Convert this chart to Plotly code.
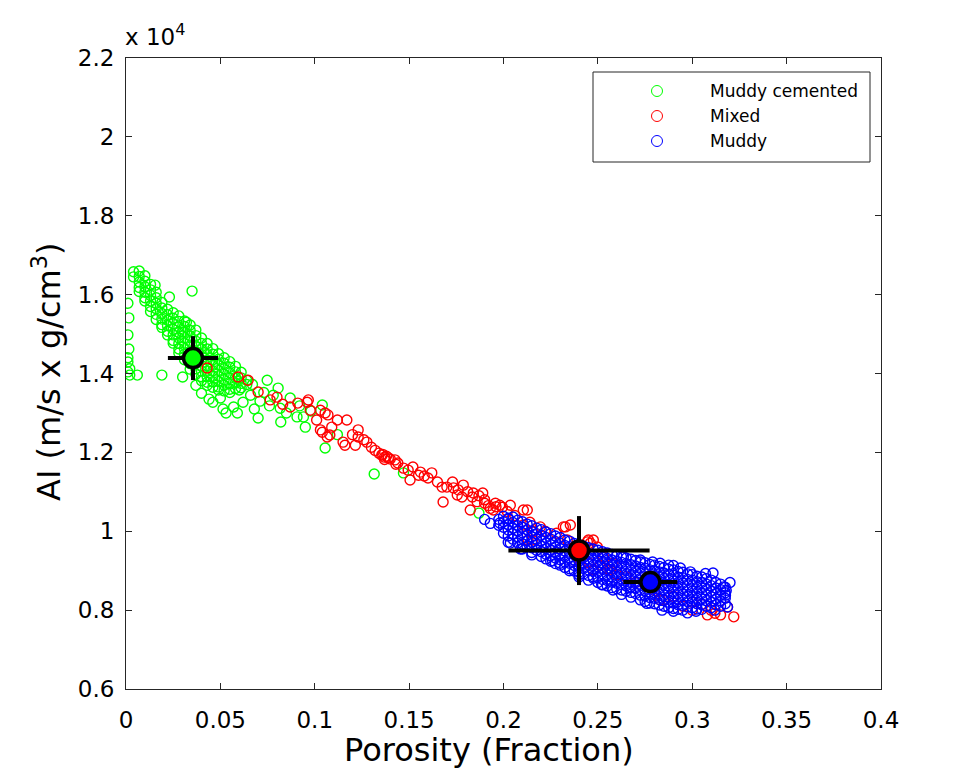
import plotly.graph_objects as go

# ---------------- data (AI in units of 10^4 m/s x g/cm3) ----------------
# Muddy cemented (green)
mc_phi = [
    0.001, 0.0015, 0.001, 0.0015, 0.001, 0.001, 0.002, 0.001, 0.002,
    0.004, 0.004,
    0.007, 0.007, 0.007, 0.007, 0.007,
    0.010, 0.010, 0.010, 0.010, 0.010, 0.010,
    0.013, 0.013, 0.013, 0.013, 0.013, 0.013,
    0.016, 0.016, 0.016, 0.016, 0.016, 0.016,
    0.019, 0.019, 0.019, 0.019, 0.019, 0.019,
    0.022, 0.022, 0.022, 0.022, 0.022, 0.022,
    0.025, 0.025, 0.025, 0.025, 0.025, 0.025, 0.025,
    0.028, 0.028, 0.028, 0.028, 0.028, 0.028, 0.028, 0.028,
    0.031, 0.031, 0.031, 0.031, 0.031, 0.031, 0.031, 0.031,
    0.034, 0.034, 0.034, 0.034, 0.034, 0.034, 0.034, 0.034, 0.034,
    0.037, 0.037, 0.037, 0.037, 0.037, 0.037, 0.037, 0.037, 0.037,
    0.040, 0.040, 0.040, 0.040, 0.040, 0.040, 0.040, 0.040, 0.040,
    0.043, 0.043, 0.043, 0.043, 0.043, 0.043, 0.043, 0.043, 0.043,
    0.046, 0.046, 0.046, 0.046, 0.046, 0.046, 0.046, 0.046,
    0.049, 0.049, 0.049, 0.049, 0.049, 0.049, 0.049, 0.049,
    0.052, 0.052, 0.052, 0.052, 0.052, 0.052, 0.052,
    0.055, 0.055, 0.055, 0.055, 0.055, 0.055, 0.055,
    0.058, 0.058, 0.058, 0.058, 0.058,
    0.061, 0.061, 0.061, 0.061,
    0.064, 0.064,
    0.0154, 0.023, 0.035, 0.032, 0.030, 0.006, 0.019, 0.030, 0.0748, 0.070,
    0.059, 0.0514, 0.046, 0.062, 0.0806, 0.0817, 0.082, 0.087, 0.0906, 0.095,
    0.104, 0.1055, 0.060, 0.1315, 0.147, 0.066, 0.071, 0.076, 0.078, 0.085,
    0.092, 0.098, 0.053, 0.057, 0.040, 0.044, 0.037, 0.067, 0.094, 0.187,
    0.112, 0.068, 0.073, 0.050,
]
mc_ai = [
    1.578, 1.541, 1.498, 1.462, 1.440, 1.429, 1.412, 1.404, 1.396,
    1.658, 1.645,
    1.660, 1.646, 1.632, 1.618, 1.608,
    1.648, 1.634, 1.620, 1.606, 1.592, 1.584,
    1.626, 1.612, 1.598, 1.584, 1.570, 1.557,
    1.606, 1.592, 1.578, 1.564, 1.550, 1.537,
    1.580, 1.566, 1.552, 1.538, 1.524, 1.517,
    1.563, 1.549, 1.535, 1.521, 1.507, 1.498,
    1.554, 1.540, 1.526, 1.512, 1.498, 1.484, 1.477,
    1.546, 1.532, 1.518, 1.504, 1.490, 1.476, 1.462, 1.452,
    1.533, 1.519, 1.505, 1.491, 1.477, 1.463, 1.449, 1.435,
    1.523, 1.509, 1.495, 1.481, 1.467, 1.453, 1.439, 1.425, 1.411,
    1.510, 1.496, 1.482, 1.468, 1.454, 1.440, 1.426, 1.412, 1.398,
    1.490, 1.476, 1.462, 1.448, 1.434, 1.420, 1.406, 1.392, 1.382,
    1.476, 1.462, 1.448, 1.434, 1.420, 1.406, 1.392, 1.378, 1.370,
    1.463, 1.449, 1.435, 1.421, 1.407, 1.393, 1.379, 1.365,
    1.450, 1.436, 1.422, 1.408, 1.394, 1.380, 1.366, 1.358,
    1.440, 1.426, 1.412, 1.398, 1.384, 1.370, 1.356,
    1.430, 1.416, 1.402, 1.388, 1.374, 1.360, 1.352,
    1.418, 1.404, 1.390, 1.376, 1.362,
    1.403, 1.389, 1.375, 1.364,
    1.383, 1.372,
    1.624, 1.594, 1.609, 1.530, 1.505, 1.396, 1.396, 1.391, 1.383, 1.287,
    1.300, 1.310, 1.327, 1.327, 1.363, 1.312, 1.277, 1.338, 1.290, 1.264,
    1.320, 1.211, 1.358, 1.145, 1.148, 1.345, 1.330, 1.318, 1.345, 1.300,
    1.318, 1.305, 1.300, 1.315, 1.350, 1.335, 1.370, 1.372, 1.290, 1.046,
    1.245, 1.310, 1.352, 1.338,
]

# Mixed (red)
mx_phi = [
    0.043, 0.0594, 0.0647, 0.070, 0.0764, 0.087, 0.096, 0.0976, 0.101, 0.107,
    0.109, 0.112, 0.103, 0.1066, 0.0966, 0.103, 0.1055, 0.117, 0.104, 0.108,
    0.115, 0.123, 0.123, 0.1215, 0.1276, 0.130, 0.1355, 0.137, 0.139, 0.1425,
    0.144, 0.147, 0.1495, 0.152, 0.1505, 0.155, 0.162, 0.170, 0.1735, 0.1787,
    0.184, 0.1755, 0.116, 0.168, 0.178, 0.1835, 0.1824, 0.189, 0.190, 0.1957,
    0.1946, 0.1994, 0.2036, 0.2126, 0.214, 0.2105, 0.2158, 0.213, 0.2195, 0.2328,
    0.2338, 0.2444, 0.136, 0.138, 0.134, 0.140, 0.137, 0.192, 0.196, 0.193,
    0.198, 0.190, 0.186, 0.1675, 0.173, 0.158, 0.165, 0.2105, 0.2153, 0.245,
    0.2497, 0.253, 0.258, 0.2476, 0.2407, 0.2317, 0.2354, 0.246, 0.2513, 0.2566,
    0.283, 0.2847, 0.308, 0.315, 0.322, 0.3187, 0.2476, 0.240, 0.245, 0.238,
    0.255, 0.260, 0.265, 0.270, 0.280, 0.290, 0.300, 0.305, 0.295, 0.310,
    0.300, 0.312, 0.080, 0.083, 0.091, 0.120, 0.126, 0.132, 0.143, 0.156,
    0.160, 0.176, 0.181, 0.187, 0.202, 0.206, 0.222, 0.228,
]
mx_ai = [
    1.414, 1.391, 1.383, 1.353, 1.333, 1.315, 1.327, 1.307, 1.282, 1.295,
    1.264, 1.282, 1.257, 1.239, 1.333, 1.307, 1.300, 1.282, 1.251, 1.244,
    1.226, 1.257, 1.239, 1.218, 1.226, 1.213, 1.193, 1.188, 1.186, 1.181,
    1.173, 1.160, 1.155, 1.163, 1.130, 1.142, 1.148, 1.112, 1.110, 1.117,
    1.097, 1.092, 1.218, 1.074, 1.087, 1.087, 1.054, 1.097, 1.071, 1.071,
    1.054, 1.061, 1.066, 1.054, 1.023, 1.016, 0.998, 0.978, 1.011, 1.011,
    0.978, 0.973, 1.195, 1.190, 1.198, 1.183, 1.182, 1.065, 1.062, 1.058,
    1.066, 1.080, 1.075, 1.112, 1.125, 1.140, 1.125, 1.054, 0.978, 0.978,
    0.960, 0.935, 0.919, 0.902, 0.919, 1.011, 1.016, 0.970, 0.914, 0.902,
    0.826, 0.826, 0.788, 0.788, 0.783, 0.808, 0.978, 0.930, 0.920, 0.940,
    0.905, 0.890, 0.885, 0.870, 0.850, 0.835, 0.820, 0.815, 0.810, 0.800,
    0.800, 0.792, 1.340, 1.322, 1.325, 1.245, 1.232, 1.205, 1.170, 1.150,
    1.135, 1.105, 1.100, 1.090, 1.050, 1.040, 1.000, 0.995,
]

# Muddy (blue)
md_phi = [
    0.1975, 0.1975,
    0.200, 0.200, 0.200, 0.200,
    0.2025, 0.2025, 0.2025, 0.2025, 0.2025,
    0.205, 0.205, 0.205, 0.205, 0.205,
    0.2075, 0.2075, 0.2075, 0.2075, 0.2075,
    0.210, 0.210, 0.210, 0.210, 0.210, 0.210,
    0.2125, 0.2125, 0.2125, 0.2125, 0.2125,
    0.215, 0.215, 0.215, 0.215, 0.215, 0.215,
    0.2175, 0.2175, 0.2175, 0.2175, 0.2175,
    0.220, 0.220, 0.220, 0.220, 0.220, 0.220,
    0.2225, 0.2225, 0.2225, 0.2225, 0.2225, 0.2225,
    0.225, 0.225, 0.225, 0.225, 0.225, 0.225,
    0.2275, 0.2275, 0.2275, 0.2275, 0.2275, 0.2275,
    0.230, 0.230, 0.230, 0.230, 0.230, 0.230,
    0.2325, 0.2325, 0.2325, 0.2325, 0.2325, 0.2325,
    0.235, 0.235, 0.235, 0.235, 0.235, 0.235,
    0.2375, 0.2375, 0.2375, 0.2375, 0.2375, 0.2375,
    0.240, 0.240, 0.240, 0.240, 0.240, 0.240, 0.240,
    0.2425, 0.2425, 0.2425, 0.2425, 0.2425, 0.2425,
    0.245, 0.245, 0.245, 0.245, 0.245, 0.245, 0.245,
    0.2475, 0.2475, 0.2475, 0.2475, 0.2475, 0.2475,
    0.250, 0.250, 0.250, 0.250, 0.250, 0.250, 0.250,
    0.2525, 0.2525, 0.2525, 0.2525, 0.2525, 0.2525, 0.2525,
    0.255, 0.255, 0.255, 0.255, 0.255, 0.255, 0.255,
    0.2575, 0.2575, 0.2575, 0.2575, 0.2575, 0.2575, 0.2575,
    0.260, 0.260, 0.260, 0.260, 0.260, 0.260, 0.260,
    0.2625, 0.2625, 0.2625, 0.2625, 0.2625, 0.2625, 0.2625, 0.2625,
    0.265, 0.265, 0.265, 0.265, 0.265, 0.265, 0.265,
    0.2675, 0.2675, 0.2675, 0.2675, 0.2675, 0.2675, 0.2675, 0.2675,
    0.270, 0.270, 0.270, 0.270, 0.270, 0.270, 0.270,
    0.2725, 0.2725, 0.2725, 0.2725, 0.2725, 0.2725, 0.2725, 0.2725,
    0.275, 0.275, 0.275, 0.275, 0.275, 0.275, 0.275, 0.275,
    0.2775, 0.2775, 0.2775, 0.2775, 0.2775, 0.2775, 0.2775, 0.2775,
    0.280, 0.280, 0.280, 0.280, 0.280, 0.280, 0.280, 0.280,
    0.2825, 0.2825, 0.2825, 0.2825, 0.2825, 0.2825, 0.2825, 0.2825,
    0.285, 0.285, 0.285, 0.285, 0.285, 0.285, 0.285, 0.285,
    0.2875, 0.2875, 0.2875, 0.2875, 0.2875, 0.2875, 0.2875, 0.2875,
    0.290, 0.290, 0.290, 0.290, 0.290, 0.290, 0.290, 0.290,
    0.2925, 0.2925, 0.2925, 0.2925, 0.2925, 0.2925, 0.2925, 0.2925,
    0.295, 0.295, 0.295, 0.295, 0.295, 0.295, 0.295, 0.295,
    0.2975, 0.2975, 0.2975, 0.2975, 0.2975, 0.2975, 0.2975,
    0.300, 0.300, 0.300, 0.300, 0.300, 0.300, 0.300,
    0.3025, 0.3025, 0.3025, 0.3025, 0.3025, 0.3025, 0.3025,
    0.305, 0.305, 0.305, 0.305, 0.305, 0.305, 0.305,
    0.3075, 0.3075, 0.3075, 0.3075, 0.3075, 0.3075,
    0.310, 0.310, 0.310, 0.310, 0.310, 0.310,
    0.3125, 0.3125, 0.3125, 0.3125, 0.3125,
    0.315, 0.315, 0.315, 0.315, 0.315,
    0.3175, 0.3175, 0.3175, 0.3175,
    0.2937, 0.299, 0.311, 0.3166, 0.3176, 0.3187, 0.2476, 0.267, 0.284, 0.2975,
    0.2635, 0.2725, 0.279, 0.283, 0.2875, 0.198, 0.2026, 0.230, 0.2036, 0.320,
    0.318, 0.307, 0.290, 0.240, 0.235, 0.226, 0.215, 0.209, 0.252, 0.258,
    0.276, 0.290, 0.302, 0.312, 0.190, 0.193,
]
md_ai = [
    1.030, 1.015,
    1.038, 1.024, 1.010, 0.995,
    1.031, 1.017, 1.003, 0.988, 0.972,
    1.036, 1.022, 1.008, 0.994, 0.980,
    1.028, 1.014, 1.000, 0.986, 0.970,
    1.024, 1.010, 0.996, 0.982, 0.968, 0.955,
    1.018, 1.004, 0.990, 0.976, 0.962,
    1.014, 1.000, 0.986, 0.972, 0.958, 0.946,
    1.008, 0.994, 0.980, 0.966, 0.952,
    1.004, 0.990, 0.976, 0.962, 0.948, 0.936,
    0.998, 0.984, 0.970, 0.956, 0.942, 0.930,
    0.994, 0.980, 0.966, 0.952, 0.938, 0.924,
    0.988, 0.974, 0.960, 0.946, 0.932, 0.918,
    0.984, 0.970, 0.956, 0.942, 0.928, 0.914,
    0.978, 0.964, 0.950, 0.936, 0.922, 0.908,
    0.975, 0.961, 0.947, 0.933, 0.919, 0.905,
    0.969, 0.955, 0.941, 0.927, 0.913, 0.899,
    0.966, 0.952, 0.938, 0.924, 0.910, 0.896, 0.884,
    0.962, 0.948, 0.934, 0.920, 0.906, 0.892,
    0.958, 0.944, 0.930, 0.916, 0.902, 0.888, 0.876,
    0.955, 0.941, 0.927, 0.913, 0.899, 0.885,
    0.952, 0.938, 0.924, 0.910, 0.896, 0.882, 0.870,
    0.948, 0.934, 0.920, 0.906, 0.892, 0.878, 0.864,
    0.945, 0.931, 0.917, 0.903, 0.889, 0.875, 0.861,
    0.941, 0.927, 0.913, 0.899, 0.885, 0.871, 0.857,
    0.938, 0.924, 0.910, 0.896, 0.882, 0.868, 0.854,
    0.935, 0.921, 0.907, 0.893, 0.879, 0.865, 0.851, 0.840,
    0.932, 0.918, 0.904, 0.890, 0.876, 0.862, 0.848,
    0.929, 0.915, 0.901, 0.887, 0.873, 0.859, 0.845, 0.833,
    0.926, 0.912, 0.898, 0.884, 0.870, 0.856, 0.842,
    0.922, 0.908, 0.894, 0.880, 0.866, 0.852, 0.838, 0.826,
    0.920, 0.906, 0.892, 0.878, 0.864, 0.850, 0.836, 0.822,
    0.916, 0.902, 0.888, 0.874, 0.860, 0.846, 0.832, 0.818,
    0.914, 0.900, 0.886, 0.872, 0.858, 0.844, 0.830, 0.816,
    0.911, 0.897, 0.883, 0.869, 0.855, 0.841, 0.827, 0.813,
    0.908, 0.894, 0.880, 0.866, 0.852, 0.838, 0.824, 0.810,
    0.904, 0.890, 0.876, 0.862, 0.848, 0.834, 0.820, 0.806,
    0.902, 0.888, 0.874, 0.860, 0.846, 0.832, 0.818, 0.804,
    0.898, 0.884, 0.870, 0.856, 0.842, 0.828, 0.814, 0.802,
    0.896, 0.882, 0.868, 0.854, 0.840, 0.826, 0.812, 0.800,
    0.892, 0.878, 0.864, 0.850, 0.836, 0.822, 0.808,
    0.890, 0.876, 0.862, 0.848, 0.834, 0.820, 0.806,
    0.886, 0.872, 0.858, 0.844, 0.830, 0.816, 0.803,
    0.884, 0.870, 0.856, 0.842, 0.828, 0.814, 0.802,
    0.880, 0.866, 0.852, 0.838, 0.824, 0.810,
    0.876, 0.862, 0.848, 0.834, 0.820, 0.806,
    0.870, 0.856, 0.842, 0.828, 0.814,
    0.866, 0.852, 0.838, 0.824, 0.810,
    0.858, 0.844, 0.830, 0.816,
    0.907, 0.897, 0.894, 0.859, 0.838, 0.808, 0.881, 0.856, 0.800, 0.793,
    0.935, 0.927, 0.922, 0.919, 0.914, 1.021, 1.033, 0.919, 0.970, 0.870,
    0.850, 0.893, 0.913, 0.890, 0.900, 0.925, 0.940, 0.955, 0.865, 0.851,
    0.817, 0.797, 0.797, 0.800, 1.030, 1.020,
]

# Class means with +/- one standard deviation
centroid_names = ["Muddy cemented", "Mixed", "Muddy"]
centroid_phi = [0.0355, 0.240, 0.2778]
centroid_ai = [1.439, 0.951, 0.871]
centroid_phi_sd = [0.0133, 0.0374, 0.0143]
centroid_ai_sd = [0.0557, 0.0875, 0.020]

series_names = ["Muddy cemented", "Mixed", "Muddy"]
series_colors = ["rgb(0,255,0)", "rgb(255,0,0)", "rgb(0,0,255)"]

x_ticks = [0, 0.05, 0.1, 0.15, 0.2, 0.25, 0.3, 0.35, 0.4]
x_ticktext = ["0", "0.05", "0.1", "0.15", "0.2", "0.25", "0.3", "0.35", "0.4"]
y_ticks = [0.6, 0.8, 1.0, 1.2, 1.4, 1.6, 1.8, 2.0, 2.2]
y_ticktext = ["0.6", "0.8", "1", "1.2", "1.4", "1.6", "1.8", "2", "2.2"]

FONT = "DejaVu Sans"
AXC = "#262626"

fig = go.Figure()
for xs, ys, name, col in zip([mc_phi, mx_phi, md_phi], [mc_ai, mx_ai, md_ai],
                             series_names, series_colors):
    fig.add_trace(go.Scatter(
        x=xs, y=ys, mode="markers", name=name,
        marker=dict(symbol="circle-open", size=10, color=col, line=dict(width=1.4)),
    ))

for i in range(3):
    fig.add_trace(go.Scatter(
        x=[centroid_phi[i]], y=[centroid_ai[i]], mode="markers",
        name=centroid_names[i] + " mean",
        marker=dict(symbol="circle", size=19, color=series_colors[i],
                    line=dict(color="black", width=3.5)),
        error_x=dict(type="data", array=[centroid_phi_sd[i]], color="black",
                     thickness=4, width=0),
        error_y=dict(type="data", array=[centroid_ai_sd[i]], color="black",
                     thickness=4, width=0),
    ))

# the page draws the figure with an 8px body offset; target plot-area pixels
OFF = 8
L, R, T, B = 126, 881, 58, 689
W, H = R - L, B - T
def px(xp):
    return (xp - L) / W
def py(yp):
    return (B - yp) / H

shapes = [dict(type="rect", xref="paper", yref="paper",
               x0=px(593), x1=px(870), y0=py(162), y1=py(72),
               line=dict(color=AXC, width=1), fillcolor="white", layer="above")]
annotations = []
legend_y = [91, 116, 141]
for name, col, ly in zip(series_names, series_colors, legend_y):
    shapes.append(dict(type="circle", xref="paper", yref="paper",
                       xsizemode="pixel", ysizemode="pixel",
                       xanchor=px(657), yanchor=py(ly),
                       x0=-5.5, x1=5.5, y0=-5.5, y1=5.5,
                       line=dict(color=col, width=1), layer="above"))
    annotations.append(dict(text=name, xref="paper", yref="paper",
                            x=px(708), y=py(ly), xanchor="left", yanchor="middle",
                            showarrow=False, font=dict(family=FONT, size=17, color="black")))

annotations.append(dict(text="Porosity (Fraction)", xref="paper", yref="paper",
                        x=px(489), y=py(750), xanchor="center", yanchor="middle",
                        showarrow=False, font=dict(family=FONT, size=32, color="black")))
annotations.append(dict(text="AI (m/s x g/cm<sup>3</sup>)", xref="paper", yref="paper",
                        x=px(47), y=py(372), xanchor="center", yanchor="middle", textangle=-90,
                        showarrow=False, font=dict(family=FONT, size=32, color="black")))
annotations.append(dict(text="x 10<sup>4</sup>", xref="paper", yref="paper",
                        x=px(123), y=py(52), xanchor="left", yanchor="bottom",
                        showarrow=False, font=dict(family=FONT, size=23, color="black")))

axis_common = dict(showgrid=False, zeroline=False, showline=True, linecolor=AXC,
                   linewidth=1, mirror="allticks", ticks="inside", ticklen=6,
                   tickcolor=AXC, tickwidth=1,
                   tickfont=dict(family=FONT, size=23, color="black"))

fig.update_layout(
    width=975, height=779, autosize=False,
    margin=dict(l=L - OFF, r=975 - R + OFF, t=T - OFF, b=779 - B + OFF),
    plot_bgcolor="white", paper_bgcolor="white",
    showlegend=False,
    xaxis=dict(range=[0, 0.4], tickvals=x_ticks, ticktext=x_ticktext,
               ticklabelstandoff=10, **axis_common),
    yaxis=dict(range=[0.6, 2.2], tickvals=y_ticks, ticktext=y_ticktext,
               ticklabelstandoff=6, **axis_common),
    shapes=shapes, annotations=annotations,
    font=dict(family=FONT, color="black"),
)

fig.write_html("out.html")
